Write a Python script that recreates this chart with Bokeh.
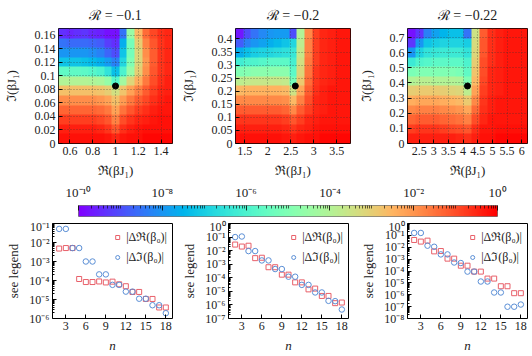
import math
import numpy as np
from bokeh.plotting import figure
from bokeh.layouts import column, row
from bokeh.models import (FixedTicker, CustomJSTickFormatter, LinearColorMapper,
                          Legend, LegendItem)
from bokeh.embed import file_html
from bokeh.resources import INLINE

FONT = "Liberation Serif"
TXT = "#222222"
RED = "#e8606a"
BLUE = "#5b8fd6"

# ---------------- data: top row heat maps (log10 of error), rows listed top -> bottom
titles = ["ℛ = −0.1", "ℛ = −0.2", "ℛ = −0.22"]
re_ranges = [(0.5, 1.5), (1.3, 3.8), (2.1, 6.2)]
im_ranges = [(0.0, 0.17), (0.0, 0.44), (0.0, 0.76)]
re_ticks = [[0.6, 0.8, 1.0, 1.2, 1.4],
            [1.5, 2.0, 2.5, 3.0, 3.5],
            [2.5, 3.0, 3.5, 4.0, 4.5, 5.0, 5.5, 6.0]]
im_ticks = [[0, 0.02, 0.04, 0.06, 0.08, 0.1, 0.12, 0.14, 0.16],
            [0, 0.05, 0.1, 0.15, 0.2, 0.25, 0.3, 0.35, 0.4],
            [0, 0.1, 0.2, 0.3, 0.4, 0.5, 0.6, 0.7]]
beta0_re = [1.0, 2.6, 4.15]
beta0_im = [0.085, 0.22, 0.38]

heat_a = [
    [-9.4, -9.5, -9.4, -9.3, -9.5, -9.6, -9.8, -9.8, -8.5, -4.5, -2.6, -1.4, -0.9, -0.6, -0.5],
    [-8.5, -8.6, -8.6, -8.6, -8.7, -8.8, -9.2, -9.4, -7.6, -5.2, -3.0, -1.7, -1.1, -0.7, -0.5],
    [-8.0, -8.0, -8.0, -8.0, -8.1, -8.3, -8.7, -9.0, -7.2, -5.2, -3.2, -1.9, -1.2, -0.7, -0.5],
    [-7.2, -7.2, -7.2, -7.3, -7.4, -7.6, -7.9, -8.3, -6.8, -5.0, -3.2, -2.0, -1.2, -0.7, -0.5],
    [-5.6, -5.6, -5.6, -5.7, -5.8, -6.0, -6.5, -7.3, -6.0, -4.5, -3.0, -1.9, -1.1, -0.7, -0.5],
    [-4.0, -4.0, -4.0, -4.0, -4.1, -4.2, -4.6, -5.8, -4.3, -3.2, -2.4, -1.6, -1.0, -0.6, -0.4],
    [-2.7, -2.7, -2.7, -2.7, -2.7, -2.8, -3.0, -3.4, -2.8, -2.2, -1.7, -1.2, -0.8, -0.5, -0.4],
    [-1.9, -1.9, -1.9, -1.9, -1.9, -2.0, -2.2, -2.7, -2.1, -1.6, -1.2, -0.9, -0.6, -0.4, -0.3],
    [-1.3, -1.3, -1.3, -1.3, -1.3, -1.4, -1.6, -2.2, -1.5, -1.1, -0.8, -0.6, -0.4, -0.3, -0.3],
    [-0.8, -0.8, -0.8, -0.8, -0.8, -0.9, -1.1, -1.7, -1.0, -0.7, -0.5, -0.4, -0.3, -0.2, -0.2],
    [-0.4, -0.4, -0.4, -0.4, -0.4, -0.5, -0.7, -1.1, -0.6, -0.4, -0.3, -0.2, -0.2, -0.2, -0.2],
    [-0.2, -0.2, -0.2, -0.2, -0.2, -0.2, -0.3, -0.5, -0.3, -0.2, -0.2, -0.1, -0.1, -0.1, -0.1],
]
heat_b = [
    [-9.7, -9.0, -8.5, -8.2, -8.0, -7.9, -7.9, -9.0, -4.0, -1.8, -0.8, -0.5, -0.4, -0.3, -0.3],
    [-8.8, -8.3, -8.0, -7.8, -7.6, -7.4, -7.2, -6.8, -3.8, -1.7, -0.8, -0.5, -0.4, -0.3, -0.3],
    [-7.6, -7.3, -7.0, -6.9, -6.8, -6.7, -6.6, -6.4, -3.6, -1.7, -0.8, -0.5, -0.4, -0.3, -0.3],
    [-6.2, -6.0, -5.9, -5.8, -5.7, -5.7, -5.7, -6.1, -3.4, -1.6, -0.8, -0.5, -0.4, -0.3, -0.3],
    [-5.0, -4.9, -4.8, -4.8, -4.8, -4.8, -4.8, -5.7, -3.2, -1.5, -0.7, -0.5, -0.4, -0.3, -0.3],
    [-3.8, -3.7, -3.6, -3.6, -3.6, -3.6, -3.7, -5.2, -2.9, -1.4, -0.7, -0.5, -0.4, -0.3, -0.3],
    [-2.6, -2.5, -2.5, -2.5, -2.5, -2.5, -2.6, -3.5, -2.3, -1.2, -0.6, -0.4, -0.3, -0.3, -0.3],
    [-1.8, -1.8, -1.8, -1.8, -1.8, -1.8, -1.9, -2.6, -1.7, -1.0, -0.5, -0.4, -0.3, -0.3, -0.3],
    [-1.2, -1.2, -1.2, -1.2, -1.2, -1.2, -1.3, -1.8, -1.2, -0.8, -0.5, -0.4, -0.3, -0.3, -0.3],
    [-0.7, -0.7, -0.7, -0.7, -0.7, -0.7, -0.8, -1.1, -0.8, -0.5, -0.4, -0.3, -0.3, -0.3, -0.3],
    [-0.4, -0.4, -0.4, -0.4, -0.4, -0.4, -0.5, -0.7, -0.5, -0.4, -0.3, -0.2, -0.2, -0.2, -0.2],
    [-0.2, -0.2, -0.2, -0.2, -0.2, -0.2, -0.3, -0.4, -0.3, -0.2, -0.2, -0.1, -0.1, -0.1, -0.1],
]
heat_c = [
    [-9.8, -9.3, -8.3, -7.8, -7.5, -7.3, -7.3, -8.5, -3.5, -1.2, -0.6, -0.4, -0.3, -0.3, -0.3],
    [-9.3, -8.0, -7.2, -7.0, -6.9, -6.9, -6.9, -7.0, -3.3, -1.1, -0.6, -0.4, -0.3, -0.3, -0.3],
    [-8.0, -6.9, -6.5, -6.4, -6.3, -6.3, -6.3, -6.5, -3.2, -1.1, -0.6, -0.4, -0.3, -0.3, -0.3],
    [-6.3, -5.9, -5.8, -5.7, -5.7, -5.7, -5.7, -6.0, -3.0, -1.0, -0.6, -0.4, -0.3, -0.3, -0.3],
    [-5.1, -5.0, -5.0, -5.0, -5.0, -5.0, -5.1, -5.6, -2.8, -1.0, -0.5, -0.4, -0.3, -0.3, -0.3],
    [-4.0, -3.9, -3.9, -4.0, -4.0, -4.0, -4.1, -5.0, -2.6, -0.9, -0.5, -0.4, -0.3, -0.3, -0.3],
    [-3.0, -2.9, -2.9, -2.9, -3.0, -3.1, -3.2, -3.8, -2.2, -0.8, -0.5, -0.4, -0.3, -0.3, -0.3],
    [-2.4, -2.3, -2.3, -2.3, -2.4, -2.5, -2.6, -2.9, -1.8, -0.7, -0.4, -0.3, -0.3, -0.3, -0.3],
    [-1.8, -1.7, -1.7, -1.7, -1.8, -1.9, -2.0, -2.3, -1.4, -0.6, -0.4, -0.3, -0.3, -0.3, -0.3],
    [-1.3, -1.2, -1.2, -1.2, -1.3, -1.4, -1.5, -1.7, -1.0, -0.5, -0.3, -0.3, -0.3, -0.3, -0.3],
    [-0.8, -0.7, -0.7, -0.7, -0.8, -0.9, -1.0, -1.1, -0.6, -0.3, -0.3, -0.2, -0.2, -0.2, -0.2],
    [-0.4, -0.4, -0.4, -0.4, -0.4, -0.4, -0.5, -0.6, -0.4, -0.2, -0.2, -0.1, -0.1, -0.1, -0.1],
]
heats = [heat_a, heat_b, heat_c]

# ---------------- data: bottom row convergence
n = list(range(2, 19))
d_re_a = [4.8e-3, 5.1e-3, 5.1e-3, 1.2e-4, 8.3e-5, 8.3e-5, 8.9e-5, 7.9e-5, 8.7e-5,
          6.3e-5, 5.0e-5, 2.5e-5, 2.5e-5, 1.07e-5, 1.07e-5, 3.8e-6, 3.8e-6]
d_im_a = [5.2e-2, 5.2e-2, 5.1e-3, 5.1e-3, 1.0e-3, 1.0e-3, 2.1e-4, 2.1e-4, 5.9e-5,
          5.9e-5, 2.6e-5, 2.6e-5, 1.1e-5, 1.1e-5, 5.0e-6, 5.0e-6, 1.9e-6]
d_re_b = [2.8e-2, 2.0e-2, 2.3e-2, 2.8e-3, 3.0e-3, 6.0e-4, 6.0e-4, 1.7e-4, 1.7e-4,
          4.6e-5, 4.6e-5, 1.4e-5, 1.6e-5, 4.6e-6, 4.6e-6, 1.35e-6, 1.5e-6]
d_im_b = [1.0e-1, 1.1e-1, 9.3e-3, 9.3e-3, 1.9e-3, 1.9e-3, 4.4e-4, 4.4e-4, 1.2e-4,
          1.2e-4, 3.0e-5, 3.0e-5, 8.3e-6, 8.3e-6, 2.0e-6, 1.9e-6, 4.6e-7]
d_re_c = [4.1e-2, 3.0e-2, 3.6e-2, 4.5e-3, 4.8e-3, 1.1e-3, 1.1e-3, 2.8e-4, 2.8e-4,
          8.9e-5, 8.9e-5, 2.3e-5, 2.3e-5, 5.2e-6, 5.2e-6, 1.35e-6, 1.35e-6]
d_im_c = [1.6e-1, 1.6e-1, 1.35e-2, 1.1e-2, 2.5e-3, 2.5e-3, 5.2e-4, 4.7e-4, 8.9e-5,
          8.9e-5, 1.3e-5, 1.3e-5, 1.55e-6, 1.55e-6, 9.8e-8, 9.8e-8, 1.5e-7]
d_re = [d_re_a, d_re_b, d_re_c]
d_im = [d_im_a, d_im_b, d_im_c]
err_ranges = [(1e-6, 1e-1), (1e-7, 1e0), (1e-8, 1e0)]
n_ticks = [3, 6, 9, 12, 15, 18]
cb_range = (1e-10, 1e0)
legend_labels = ["|Δℜ(β₀)|", "|Δℑ(β₀)|"]


def rainbow_palette(count=256):
    pal = []
    for i in range(count):
        t = i / (count - 1)
        r = min(1.0, abs(2 * t - 0.5))
        g = math.sin(math.pi * t)
        b = max(0.0, math.cos(math.pi * t / 2))
        pal.append("#%02x%02x%02x" % (round(255 * r), round(255 * g), round(255 * b)))
    return pal


mapper = LinearColorMapper(palette=rainbow_palette(), low=-10, high=0)

POW_JS = """
const e = Math.round(Math.log10(tick));
const m = {'-':'\u207b','0':'\u2070','1':'\u00b9','2':'\u00b2','3':'\u00b3','4':'\u2074',
           '5':'\u2075','6':'\u2076','7':'\u2077','8':'\u2078','9':'\u2079'};
return '10' + String(e).split('').map(c => m[c]).join('');
"""
NUM_JS = "return String(parseFloat(tick.toFixed(3)));"


def style(ax, tin=4, minor_in=2):
    ax.major_tick_in = tin
    ax.major_tick_out = 0
    ax.minor_tick_in = minor_in
    ax.minor_tick_out = 0
    ax.axis_line_color = None
    ax.major_tick_line_color = "black"
    ax.minor_tick_line_color = "black"
    ax.major_label_text_font = FONT
    ax.major_label_text_font_size = "12px"
    ax.major_label_text_color = TXT
    ax.axis_label_text_font = FONT
    ax.axis_label_text_font_size = "13px"
    ax.axis_label_text_font_style = "normal"
    ax.axis_label_text_color = TXT
    ax.major_label_standoff = 3
    ax.axis_label_standoff = 4


def heat_fig(i, left, right):
    x0, x1 = re_ranges[i]
    y0, y1 = im_ranges[i]
    p = figure(width=left + 121 + right, height=180, x_range=(x0, x1), y_range=(y0, y1),
               output_backend="svg", toolbar_location=None,
               min_border_left=left, min_border_right=right, min_border_top=23,
               min_border_bottom=35, title=titles[i])
    p.title.align = "center"
    p.title.text_font = FONT
    p.title.text_font_size = "14px"
    p.title.text_font_style = "normal"
    p.title.text_color = TXT
    p.title.standoff = 11
    p.title.offset = 0
    img = np.flipud(np.array(heats[i]))
    p.image(image=[img], x=x0, y=y0, dw=x1 - x0, dh=y1 - y0, color_mapper=mapper)
    p.scatter([beta0_re[i]], [beta0_im[i]], size=6, color="black")
    p.xaxis.ticker = FixedTicker(ticks=re_ticks[i], minor_ticks=[])
    p.yaxis.ticker = FixedTicker(ticks=im_ticks[i], minor_ticks=[])
    p.xaxis.formatter = CustomJSTickFormatter(code=NUM_JS)
    p.yaxis.formatter = CustomJSTickFormatter(code=NUM_JS)
    p.xaxis.axis_label = "ℜ(βJ₁)"
    p.yaxis.axis_label = "ℑ(βJ₁)"
    for ax in p.xaxis + p.yaxis:
        style(ax)
    p.xaxis.axis_label_standoff = 5
    p.yaxis.axis_label_standoff = 13
    p.grid.grid_line_color = "#333333"
    p.grid.grid_line_alpha = 0.55
    p.grid.grid_line_dash = "1 2"
    p.grid.level = "overlay"
    p.outline_line_color = "black"
    p.outline_line_alpha = 1
    return p


def decade_ticks(lo, hi, step=1):
    a = int(round(math.log10(lo)))
    b = int(round(math.log10(hi)))
    major = [10.0 ** k for k in range(a, b + 1, step)]
    minor = [m * 10.0 ** k for k in range(a, b) for m in range(1, 10)
             if not (m == 1 and (k - a) % step == 0)]
    return major, minor


def err_fig(j, left, right):
    lo, hi = err_ranges[j]
    p = figure(width=left + 120 + right, height=136, x_range=(1, 19), y_range=(lo, hi),
               y_axis_type="log", output_backend="svg", toolbar_location=None,
               min_border_left=left, min_border_right=right, min_border_top=4,
               min_border_bottom=32)
    r1 = p.scatter(n, d_re[j], marker="square", size=5, fill_color=None,
                   line_color=RED, line_width=1)
    r2 = p.scatter(n, d_im[j], marker="circle", size=5.5, fill_color=None,
                   line_color=BLUE, line_width=1)
    major, minor = decade_ticks(lo, hi)
    p.yaxis.ticker = FixedTicker(ticks=major, minor_ticks=minor)
    p.yaxis.formatter = CustomJSTickFormatter(code=POW_JS)
    p.xaxis.ticker = FixedTicker(ticks=n_ticks, minor_ticks=[])
    p.xaxis.axis_label = "n"
    p.yaxis.axis_label = "see legend"
    for ax in p.xaxis + p.yaxis:
        style(ax)
    p.xaxis.axis_label_text_font_style = "italic"
    p.xaxis.axis_label_standoff = 5
    p.yaxis.axis_label_standoff = 5
    p.grid.visible = False
    p.outline_line_color = "black"
    p.outline_line_alpha = 1
    leg = Legend(items=[LegendItem(label=legend_labels[0], renderers=[r1]),
                        LegendItem(label=legend_labels[1], renderers=[r2])],
                 location="top_right")
    leg.background_fill_alpha = 0
    leg.border_line_alpha = 0
    leg.label_text_font = FONT
    leg.label_text_font_size = "12px"
    leg.label_text_color = TXT
    leg.glyph_width = 10
    leg.glyph_height = 12
    leg.label_height = 12
    leg.spacing = 3
    leg.padding = 2
    leg.margin = 3
    leg.label_standoff = 4
    p.add_layout(leg)
    return p


# ---------------- colour bar
cb = figure(width=531, height=39, x_axis_type="log", x_range=cb_range, y_range=(0, 1),
            x_axis_location="above", output_backend="svg", toolbar_location=None,
            min_border_left=78, min_border_right=34, min_border_top=25, min_border_bottom=3)
cb.image(image=[np.linspace(-10, 0, 256).reshape(1, 256)], x=cb_range[0], y=0,
         dw=cb_range[1] - cb_range[0], dh=1, color_mapper=mapper)
cmaj, cmin = decade_ticks(*cb_range, step=2)
cb.xaxis.ticker = FixedTicker(ticks=cmaj, minor_ticks=cmin)
cb.xaxis.formatter = CustomJSTickFormatter(code=POW_JS)
style(cb.xaxis[0], tin=5, minor_in=3)
cb.xaxis.major_label_text_font_size = "13px"
cb.xaxis.minor_tick_line_alpha = 0.6
cb.xaxis.major_tick_line_alpha = 0.8
cb.xaxis.major_label_standoff = 6
cb.yaxis.visible = False
cb.grid.visible = False
cb.outline_line_color = "#777777"

top = row(heat_fig(0, 51, 5), heat_fig(1, 52, 5), heat_fig(2, 51, 4))
bottom = row(err_fig(0, 52, 5), err_fig(1, 51, 5), err_fig(2, 54, 4))
layout = column(top, cb, bottom)

open("out.html", "w").write(file_html(layout, INLINE))
